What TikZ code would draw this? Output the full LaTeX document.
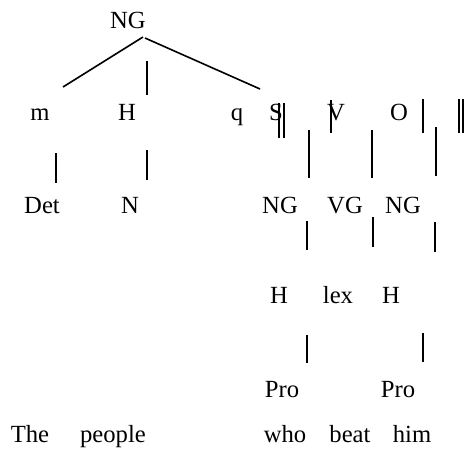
\documentclass[tikz,border=0pt]{standalone}
\usepackage{fontspec}
\setmainfont{Liberation Serif}

\tikzset{every picture/.style={line width=1.2pt}}
\tikzset{lbl/.style={anchor=base,inner sep=0.75pt,font=\fontsize{18.5}{22}\selectfont}}

\begin{document}
\begin{tikzpicture}[x=0.75pt,y=0.75pt,yscale=-1,xscale=1]
%set diagram size 467 x 450
\useasboundingbox (0,0) rectangle (467,450);

% Text Node
\node (ng) [lbl] at (128,28) {NG};
% Text Node
\node (m) [lbl] at (40,120) {m};
\node (h) [lbl] at (127,120) {H};
\node (q) [lbl] at (237,120) {q};
\node (s) [lbl] at (276,120) {S};
\node (v) [lbl] at (336,120) {V};
\node (o) [lbl] at (399,120) {O};
% Text Node
\node (det) [lbl] at (42,213) {Det};
\node (n) [lbl] at (130,213) {N};
\node (ngs) [lbl] at (280,213) {NG};
\node (vg) [lbl] at (345,213) {VG};
\node (ngo) [lbl] at (403,213) {NG};
% Text Node
\node (hs) [lbl] at (279,303) {H};
\node (lex) [lbl] at (338,303) {lex};
\node (ho) [lbl] at (391,303) {H};
% Text Node
\node (pros) [lbl] at (282,397) {Pro};
\node (proo) [lbl] at (398,397) {Pro};
% Text Node
\node (the) [lbl] at (30,442) {The};
\node (people) [lbl] at (113,442) {people};
\node (who) [lbl] at (285,442) {who};
\node (beat) [lbl] at (350,442) {beat};
\node (him) [lbl] at (412,442) {him};

%Straight Lines
\draw    (143,37) -- (63,87) ;
%Straight Lines
\draw    (145,38) -- (260,89) ;
%Straight Lines
\draw    (147,61) -- (147,95) ;
%Straight Lines
\draw    (279,103) -- (279,138)(284,103) -- (284,138) ;
%Straight Lines
\draw    (309,130) -- (309,178) ;
%Straight Lines
\draw    (331,100) -- (331,133) ;
%Straight Lines
\draw    (372,130) -- (372,178) ;
%Straight Lines
\draw    (423,99) -- (423,133) ;
%Straight Lines
\draw    (436,127) -- (436,176) ;
%Straight Lines
\draw    (459,99) -- (459,133)(463,99) -- (463,133) ;
%Straight Lines
\draw    (56,153) -- (56,183) ;
%Straight Lines
\draw    (147,150) -- (147,180) ;
%Straight Lines
\draw    (307,221) -- (307,250) ;
%Straight Lines
\draw    (373,217) -- (373,247) ;
%Straight Lines
\draw    (435,222) -- (435,252) ;
%Straight Lines
\draw    (307,335) -- (307,363) ;
%Straight Lines
\draw    (423,333) -- (423,362) ;

\end{tikzpicture}
\end{document}
